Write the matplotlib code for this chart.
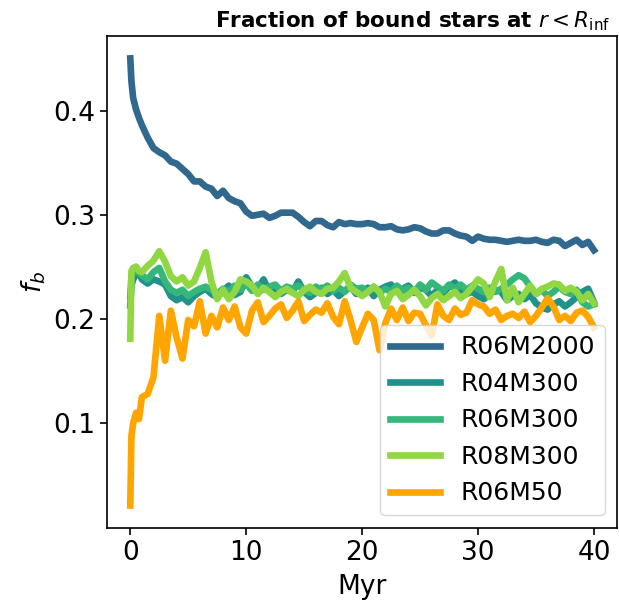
import numpy as np
import matplotlib
matplotlib.use("Agg")
import matplotlib.pyplot as plt

# Time sampling (Myr): finer steps at the start, then every 0.5 Myr
t_early = [0.0, 0.1, 0.25, 0.5, 0.75]
t_late = [1.0 + 0.5 * k for k in range(79)]
time_myr = np.array(t_early + t_late)

# Bound fraction inside R_inf for each run
fb_R06M2000 = [
    0.450, 0.428, 0.412, 0.401, 0.393,
    0.386, 0.374, 0.364, 0.360, 0.357, 0.351, 0.349, 0.344, 0.339, 0.332,
    0.332, 0.327, 0.325, 0.318, 0.323, 0.316, 0.313, 0.311, 0.303, 0.299,
    0.300, 0.301, 0.297, 0.299, 0.302, 0.302, 0.302, 0.298, 0.293, 0.289,
    0.294, 0.294, 0.290, 0.288, 0.293, 0.291, 0.292, 0.291, 0.291, 0.292,
    0.291, 0.288, 0.288, 0.289, 0.286, 0.285, 0.286, 0.288, 0.287, 0.284,
    0.282, 0.282, 0.285, 0.285, 0.282, 0.280, 0.279, 0.275, 0.279, 0.277,
    0.276, 0.276, 0.275, 0.274, 0.275, 0.276, 0.275, 0.275, 0.276, 0.274,
    0.273, 0.276, 0.275, 0.270, 0.273, 0.276, 0.271, 0.274, 0.266,
]
fb_R04M300 = [
    0.213, 0.232, 0.238, 0.243, 0.245,
    0.238, 0.234, 0.238, 0.236, 0.233, 0.222, 0.218, 0.221, 0.216, 0.222,
    0.226, 0.229, 0.224, 0.221, 0.227, 0.232, 0.223, 0.226, 0.240, 0.231,
    0.229, 0.238, 0.226, 0.230, 0.224, 0.228, 0.226, 0.236, 0.226, 0.221,
    0.225, 0.230, 0.224, 0.228, 0.222, 0.227, 0.231, 0.224, 0.226, 0.230,
    0.222, 0.228, 0.231, 0.233, 0.226, 0.229, 0.232, 0.225, 0.230, 0.228,
    0.222, 0.228, 0.225, 0.231, 0.235, 0.228, 0.224, 0.226, 0.222, 0.219,
    0.224, 0.228, 0.226, 0.218, 0.222, 0.224, 0.219, 0.223, 0.215, 0.211,
    0.209, 0.214, 0.217, 0.212, 0.216, 0.221, 0.226, 0.229, 0.216,
]
fb_R06M300 = [
    0.222, 0.240, 0.246, 0.250, 0.244,
    0.242, 0.238, 0.245, 0.249, 0.236, 0.228, 0.225, 0.228, 0.222, 0.226,
    0.229, 0.231, 0.228, 0.224, 0.229, 0.226, 0.232, 0.228, 0.234, 0.227,
    0.233, 0.228, 0.231, 0.233, 0.227, 0.231, 0.229, 0.232, 0.228, 0.225,
    0.231, 0.228, 0.232, 0.227, 0.230, 0.226, 0.233, 0.229, 0.230, 0.226,
    0.231, 0.225, 0.229, 0.226, 0.232, 0.227, 0.230, 0.226, 0.233, 0.228,
    0.235, 0.231, 0.227, 0.233, 0.229, 0.233, 0.228, 0.232, 0.229, 0.226,
    0.230, 0.226, 0.229, 0.233, 0.238, 0.242, 0.239, 0.231, 0.224, 0.228,
    0.222, 0.226, 0.231, 0.226, 0.224, 0.228, 0.216, 0.212, 0.214,
]
fb_R08M300 = [
    0.181, 0.246, 0.249, 0.250, 0.246,
    0.245, 0.251, 0.256, 0.265, 0.255, 0.241, 0.236, 0.240, 0.232, 0.236,
    0.249, 0.264, 0.236, 0.219, 0.228, 0.219, 0.226, 0.238, 0.236, 0.232,
    0.224, 0.230, 0.226, 0.221, 0.226, 0.229, 0.225, 0.222, 0.228, 0.231,
    0.226, 0.224, 0.229, 0.230, 0.236, 0.244, 0.230, 0.226, 0.222, 0.226,
    0.231, 0.226, 0.212, 0.224, 0.227, 0.219, 0.223, 0.228, 0.222, 0.213,
    0.220, 0.224, 0.218, 0.222, 0.226, 0.220, 0.224, 0.231, 0.238, 0.234,
    0.221, 0.236, 0.248, 0.218, 0.230, 0.216, 0.224, 0.232, 0.224, 0.229,
    0.231, 0.234, 0.233, 0.227, 0.230, 0.226, 0.218, 0.224, 0.215,
]
fb_R06M50 = [
    0.021, 0.088, 0.100, 0.110, 0.104,
    0.125, 0.128, 0.144, 0.203, 0.160, 0.208, 0.182, 0.162, 0.199, 0.193,
    0.217, 0.186, 0.203, 0.192, 0.211, 0.199, 0.212, 0.192, 0.186, 0.208,
    0.216, 0.197, 0.203, 0.210, 0.214, 0.201, 0.208, 0.217, 0.198, 0.204,
    0.209, 0.206, 0.215, 0.202, 0.195, 0.217, 0.199, 0.178, 0.192, 0.205,
    0.199, 0.170, 0.196, 0.210, 0.199, 0.211, 0.198, 0.206, 0.205, 0.194,
    0.184, 0.214, 0.203, 0.199, 0.210, 0.204, 0.206, 0.218, 0.214, 0.212,
    0.205, 0.209, 0.199, 0.203, 0.205, 0.201, 0.207, 0.197, 0.203, 0.211,
    0.220, 0.212, 0.199, 0.203, 0.198, 0.206, 0.208, 0.202, 0.192,
]

run_names = ["R06M2000", "R04M300", "R06M300", "R08M300", "R06M50"]
run_colors = ["#31688e", "#21918c", "#35b779", "#90d743", "orange"]
run_values = [fb_R06M2000, fb_R04M300, fb_R06M300, fb_R08M300, fb_R06M50]

FS = 19

fig = plt.figure(figsize=(6.19, 6.11), dpi=100)
ax = fig.add_axes([0.173, 0.136, 0.824, 0.805])

for name, color, fb in zip(run_names, run_colors, run_values):
    ax.plot(time_myr, fb, color=color, lw=4.8, label=name)

ax.set_xticks([0, 10, 20, 30, 40])
ax.set_yticks([0.1, 0.2, 0.3, 0.4])
ax.tick_params(labelsize=FS, width=1.2, length=5)
for sp in ax.spines.values():
    sp.set_linewidth(1.2)

ax.set_xlabel("Myr", fontsize=FS, labelpad=6)
ax.set_ylabel("$f_b$", fontsize=FS)
ax.set_title(r"Fraction of bound stars at $r < R_{\rm inf}$", fontsize=15.5,
             fontweight="bold", x=0.60)
ax.legend(loc="lower right", fontsize=18)

fig.savefig("out.png", dpi=100)
